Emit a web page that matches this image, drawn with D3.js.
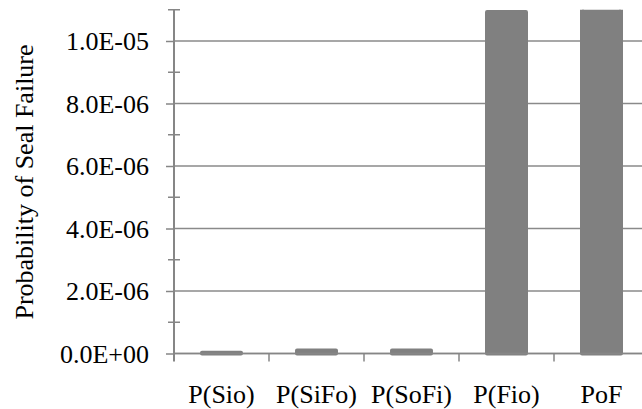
<!DOCTYPE html>
<html><head><meta charset="utf-8">
<script src="https://cdn.jsdelivr.net/npm/d3@7"></script>
<style>body{margin:0;background:#fff}</style>
</head><body><svg id="c" width="642" height="409" font-family="Liberation Serif"></svg>
<script>
const categories = ["P(Sio)", "P(SiFo)", "P(SoFi)", "P(Fio)", "PoF"];
const values = [2.6e-8, 1.0e-7, 1.0e-7, 1.093e-5, 1.12e-5];
const majorTicks = [0, 2e-6, 4e-6, 6e-6, 8e-6, 1e-5];
const minorTicks = [1e-6, 3e-6, 5e-6, 7e-6, 9e-6, 1.1e-5];
const yTitle = "Probability of Seal Failure";

const svg = d3.select("#c");
const x0 = 174, x1 = 649, yTop = 9.75, yBot = 353.5;
const x = d3.scaleBand().domain(categories).range([x0, x1]).paddingInner(0.59).paddingOuter(0.295);
const y = d3.scaleLinear().domain([0, 1.1e-5]).range([yBot, yTop]);
const fmt = v => { const s = v.toExponential(1).toUpperCase(); const m = s.match(/^(.*)E([+-])(\d+)$/); return m[1] + "E" + m[2] + m[3].padStart(2, "0"); };
const grey = "#868686";
const setFont = sel => sel.attr("font-family", "Liberation Serif").style("font-family", '"Liberation Serif"').style("font-size", "26px").attr("fill", "#000");

// gridlines
svg.append("g").selectAll("line").data(majorTicks).join("line")
  .attr("x1", x0).attr("x2", 642).attr("y1", d => y(d)).attr("y2", d => y(d))
  .attr("stroke", "#8a8a8a").attr("stroke-width", 1.3);

// bars
svg.append("clipPath").attr("id", "clip").append("rect")
  .attr("x", x0).attr("y", yTop).attr("width", 642 - x0).attr("height", yBot - yTop + 10);
svg.append("g").attr("clip-path", "url(#clip)").selectAll("rect").data(values).join("rect")
  .attr("x", (d, i) => x(categories[i]))
  .attr("width", x.bandwidth())
  .attr("y", d => y(d))
  .attr("height", d => yBot - y(d))
  .attr("fill", "#808080").attr("stroke", "#808080").attr("stroke-width", 4).attr("stroke-linejoin", "round");

// y axis
const yAxis = d3.axisLeft(y).tickValues(majorTicks).tickFormat(fmt).tickSize(8).tickPadding(17);
const gy = svg.append("g").attr("transform", `translate(${x0},0)`).call(yAxis)
  .attr("font-family", "Liberation Serif").attr("font-size", 26);
gy.select(".domain").remove();
gy.selectAll(".tick line").attr("stroke", grey).attr("stroke-width", 1.5).attr("x2", -8);
gy.selectAll(".tick text").call(setFont).attr("dy", "0.34em");
svg.append("g").selectAll("line").data(minorTicks).join("line")
  .attr("x1", x0 - 6).attr("x2", x0 + 6).attr("y1", d => y(d)).attr("y2", d => y(d))
  .attr("stroke", grey).attr("stroke-width", 1.5);
svg.append("line").attr("x1", x0).attr("x2", x0).attr("y1", y(1.1e-5)).attr("y2", yBot + 8)
  .attr("stroke", grey).attr("stroke-width", 2);

// x axis
const xAxis = d3.axisBottom(x).tickSize(0).tickPadding(31);
const gx = svg.append("g").attr("transform", `translate(0,${yBot})`).call(xAxis)
  .attr("font-family", "Liberation Serif").attr("font-size", 26);
gx.select(".domain").remove();
gx.selectAll(".tick text").call(setFont);
svg.append("line").attr("x1", x0).attr("x2", 642).attr("y1", yBot).attr("y2", yBot).attr("stroke", grey).attr("stroke-width", 1.5);
const bounds = categories.map(c => x(c) - x.step() * x.paddingInner() / 2).slice(1);
svg.append("g").selectAll("line").data(bounds).join("line")
  .attr("x1", d => d).attr("x2", d => d).attr("y1", yBot).attr("y2", yBot + 8)
  .attr("stroke", grey).attr("stroke-width", 1.5);

// y title
svg.append("text").attr("transform", `translate(33,182) rotate(-90)`).attr("text-anchor", "middle")
  .call(setFont).text(yTitle);
</script></body></html>
